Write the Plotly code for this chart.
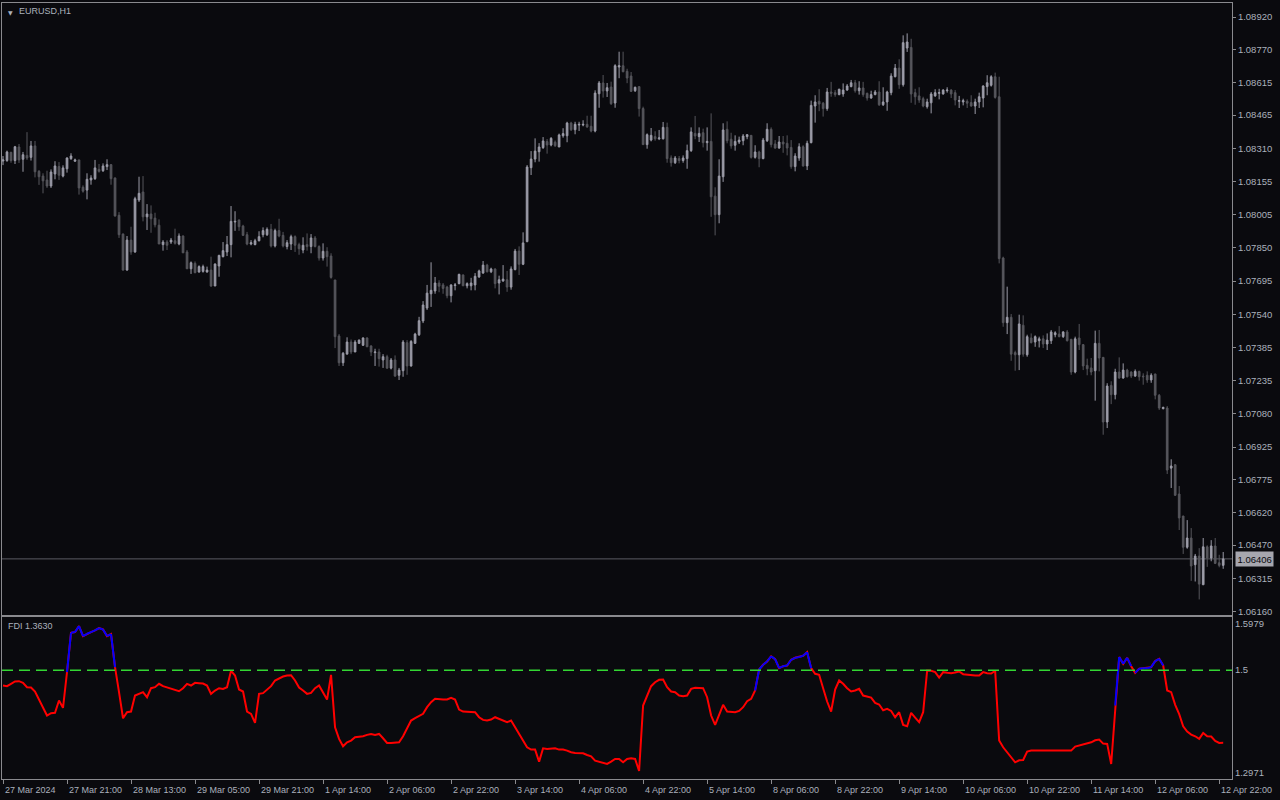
import plotly.graph_objects as go

# ---------------- data: EURUSD H1 candles (bar index 0..305) ----------------
open_ = [1.08252, 1.08254, 1.08292, 1.08254, 1.08317, 1.08260, 1.08278, 1.08269, 1.08322, 1.08204,
         1.08182, 1.08164, 1.08136, 1.08192, 1.08226, 1.08182, 1.08216, 1.08263, 1.08251, 1.08257,
         1.08130, 1.08117, 1.08164, 1.08170, 1.08213, 1.08207, 1.08226, 1.08235, 1.08173, 1.08000,
         1.07913, 1.07746, 1.07885, 1.07830, 1.08071, 1.08108, 1.07993, 1.08006, 1.07987, 1.07954,
         1.07864, 1.07876, 1.07876, 1.07882, 1.07867, 1.07904, 1.07830, 1.07752, 1.07777, 1.07737,
         1.07740, 1.07737, 1.07746, 1.07672, 1.07765, 1.07808, 1.07830, 1.07864, 1.07969, 1.07978,
         1.07950, 1.07910, 1.07867, 1.07864, 1.07882, 1.07910, 1.07910, 1.07935, 1.07858, 1.07929,
         1.07907, 1.07855, 1.07867, 1.07901, 1.07864, 1.07839, 1.07864, 1.07855, 1.07895, 1.07855,
         1.07802, 1.07833, 1.07811, 1.07700, 1.07440, 1.07316, 1.07356, 1.07412, 1.07366, 1.07406,
         1.07397, 1.07431, 1.07394, 1.07363, 1.07366, 1.07329, 1.07344, 1.07291, 1.07329, 1.07258,
         1.07279, 1.07409, 1.07301, 1.07406, 1.07446, 1.07510, 1.07570, 1.07636, 1.07649, 1.07686,
         1.07677, 1.07667, 1.07627, 1.07674, 1.07683, 1.07723, 1.07673, 1.07673, 1.07677, 1.07714,
         1.07732, 1.07769, 1.07738, 1.07751, 1.07686, 1.07695, 1.07701, 1.07667, 1.07748, 1.07834,
         1.07773, 1.07878, 1.08221, 1.08261, 1.08295, 1.08314, 1.08342, 1.08326, 1.08339, 1.08317,
         1.08369, 1.08369, 1.08428, 1.08397, 1.08419, 1.08419, 1.08422, 1.08413, 1.08391, 1.08564,
         1.08614, 1.08577, 1.08595, 1.08521, 1.08688, 1.08694, 1.08668, 1.08646, 1.08578, 1.08597,
         1.08495, 1.08328, 1.08349, 1.08365, 1.08355, 1.08355, 1.08408, 1.08266, 1.08244, 1.08263,
         1.08254, 1.08263, 1.08300, 1.08380, 1.08365, 1.08383, 1.08337, 1.08343, 1.08089, 1.08003,
         1.08179, 1.08399, 1.08353, 1.08325, 1.08340, 1.08346, 1.08365, 1.08371, 1.08269, 1.08294,
         1.08263, 1.08346, 1.08399, 1.08331, 1.08312, 1.08340, 1.08334, 1.08315, 1.08226, 1.08266,
         1.08318, 1.08229, 1.08337, 1.08507, 1.08529, 1.08520, 1.08495, 1.08572, 1.08569, 1.08560,
         1.08563, 1.08581, 1.08597, 1.08615, 1.08578, 1.08591, 1.08566, 1.08544, 1.08560, 1.08572,
         1.08513, 1.08526, 1.08569, 1.08643, 1.08683, 1.08606, 1.08776, 1.08779, 1.08569, 1.08554,
         1.08541, 1.08504, 1.08522, 1.08554, 1.08566, 1.08563, 1.08578, 1.08581, 1.08569, 1.08529,
         1.08526, 1.08529, 1.08523, 1.08507, 1.08526, 1.08544, 1.08597, 1.08603, 1.08643, 1.08550,
         1.07802, 1.07502, 1.07527, 1.07363, 1.07353, 1.07490, 1.07353, 1.07431, 1.07412, 1.07418,
         1.07427, 1.07403, 1.07418, 1.07446, 1.07449, 1.07437, 1.07459, 1.07425, 1.07273, 1.07431,
         1.07400, 1.07304, 1.07292, 1.07279, 1.07406, 1.07341, 1.07041, 1.07211, 1.07168, 1.07273,
         1.07245, 1.07282, 1.07273, 1.07254, 1.07276, 1.07254, 1.07258, 1.07236, 1.07264, 1.07165,
         1.07103, 1.07106, 1.06827, 1.06843, 1.06707, 1.06605, 1.06460, 1.06503, 1.06379, 1.06419,
         1.06286, 1.06462, 1.06410, 1.06466, 1.06388, 1.06376]

high_ = [1.08275, 1.08300, 1.08295, 1.08322, 1.08331, 1.08294, 1.08386, 1.08345, 1.08345, 1.08210,
         1.08195, 1.08207, 1.08213, 1.08251, 1.08247, 1.08232, 1.08269, 1.08288, 1.08263, 1.08257,
         1.08139, 1.08195, 1.08186, 1.08257, 1.08238, 1.08241, 1.08260, 1.08238, 1.08176, 1.08015,
         1.07916, 1.07904, 1.07947, 1.08086, 1.08179, 1.08182, 1.08052, 1.08046, 1.08012, 1.07981,
         1.07885, 1.07885, 1.07895, 1.07938, 1.07916, 1.07907, 1.07839, 1.07786, 1.07786, 1.07768,
         1.07771, 1.07762, 1.07808, 1.07777, 1.07817, 1.07876, 1.07904, 1.08043, 1.08019, 1.07981,
         1.07956, 1.07923, 1.07885, 1.07891, 1.07926, 1.07944, 1.07944, 1.07960, 1.07938, 1.07984,
         1.07923, 1.07885, 1.07910, 1.07907, 1.07873, 1.07898, 1.07916, 1.07913, 1.07904, 1.07861,
         1.07870, 1.07852, 1.07824, 1.07700, 1.07449, 1.07366, 1.07434, 1.07424, 1.07421, 1.07424,
         1.07434, 1.07434, 1.07397, 1.07381, 1.07381, 1.07356, 1.07353, 1.07338, 1.07350, 1.07292,
         1.07421, 1.07421, 1.07421, 1.07455, 1.07529, 1.07602, 1.07677, 1.07782, 1.07714, 1.07699,
         1.07686, 1.07673, 1.07680, 1.07686, 1.07729, 1.07726, 1.07689, 1.07710, 1.07732, 1.07748,
         1.07788, 1.07775, 1.07757, 1.07754, 1.07720, 1.07769, 1.07742, 1.07763, 1.07844, 1.07856,
         1.07921, 1.08233, 1.08298, 1.08357, 1.08335, 1.08363, 1.08354, 1.08363, 1.08347, 1.08379,
         1.08404, 1.08434, 1.08434, 1.08434, 1.08434, 1.08441, 1.08462, 1.08462, 1.08580, 1.08623,
         1.08651, 1.08614, 1.08620, 1.08701, 1.08759, 1.08759, 1.08680, 1.08665, 1.08597, 1.08597,
         1.08504, 1.08380, 1.08405, 1.08390, 1.08396, 1.08433, 1.08430, 1.08278, 1.08275, 1.08275,
         1.08278, 1.08328, 1.08408, 1.08461, 1.08408, 1.08402, 1.08408, 1.08473, 1.08130, 1.08260,
         1.08427, 1.08436, 1.08383, 1.08371, 1.08365, 1.08377, 1.08377, 1.08371, 1.08325, 1.08300,
         1.08359, 1.08427, 1.08408, 1.08349, 1.08368, 1.08368, 1.08371, 1.08349, 1.08288, 1.08334,
         1.08325, 1.08346, 1.08532, 1.08557, 1.08585, 1.08526, 1.08591, 1.08619, 1.08581, 1.08587,
         1.08612, 1.08609, 1.08628, 1.08628, 1.08622, 1.08619, 1.08569, 1.08578, 1.08581, 1.08622,
         1.08594, 1.08578, 1.08659, 1.08702, 1.08724, 1.08835, 1.08844, 1.08819, 1.08587, 1.08594,
         1.08550, 1.08541, 1.08572, 1.08585, 1.08587, 1.08585, 1.08594, 1.08585, 1.08581, 1.08554,
         1.08541, 1.08538, 1.08557, 1.08541, 1.08569, 1.08603, 1.08650, 1.08650, 1.08662, 1.08643,
         1.07808, 1.07669, 1.07542, 1.07372, 1.07539, 1.07536, 1.07446, 1.07452, 1.07443, 1.07437,
         1.07443, 1.07452, 1.07468, 1.07462, 1.07486, 1.07462, 1.07468, 1.07425, 1.07437, 1.07496,
         1.07403, 1.07335, 1.07338, 1.07465, 1.07468, 1.07341, 1.07221, 1.07230, 1.07288, 1.07341,
         1.07313, 1.07288, 1.07276, 1.07285, 1.07279, 1.07267, 1.07276, 1.07267, 1.07264, 1.07171,
         1.07112, 1.07115, 1.06868, 1.06846, 1.06744, 1.06605, 1.06586, 1.06549, 1.06429, 1.06456,
         1.06503, 1.06469, 1.06493, 1.06503, 1.06425, 1.06438]

low_ = [1.08233, 1.08248, 1.08244, 1.08238, 1.08243, 1.08202, 1.08257, 1.08254, 1.08176, 1.08141,
        1.08102, 1.08127, 1.08127, 1.08167, 1.08164, 1.08176, 1.08198, 1.08257, 1.08248, 1.08096,
        1.08105, 1.08074, 1.08142, 1.08164, 1.08198, 1.08201, 1.08210, 1.08142, 1.07994, 1.07895,
        1.07743, 1.07743, 1.07817, 1.07826, 1.08062, 1.07972, 1.07932, 1.07919, 1.07944, 1.07867,
        1.07836, 1.07839, 1.07867, 1.07864, 1.07861, 1.07826, 1.07752, 1.07728, 1.07731, 1.07734,
        1.07734, 1.07734, 1.07668, 1.07672, 1.07715, 1.07805, 1.07811, 1.07805, 1.07928, 1.07928,
        1.07904, 1.07861, 1.07861, 1.07861, 1.07879, 1.07898, 1.07904, 1.07851, 1.07851, 1.07898,
        1.07851, 1.07842, 1.07839, 1.07830, 1.07817, 1.07824, 1.07836, 1.07824, 1.07851, 1.07790,
        1.07790, 1.07762, 1.07706, 1.07384, 1.07301, 1.07301, 1.07356, 1.07356, 1.07366, 1.07403,
        1.07394, 1.07390, 1.07347, 1.07301, 1.07298, 1.07292, 1.07288, 1.07285, 1.07251, 1.07236,
        1.07251, 1.07260, 1.07298, 1.07403, 1.07440, 1.07500, 1.07561, 1.07575, 1.07636, 1.07643,
        1.07636, 1.07615, 1.07596, 1.07652, 1.07680, 1.07673, 1.07661, 1.07652, 1.07652, 1.07710,
        1.07729, 1.07735, 1.07732, 1.07661, 1.07633, 1.07692, 1.07645, 1.07655, 1.07745, 1.07723,
        1.07769, 1.07875, 1.08187, 1.08246, 1.08249, 1.08308, 1.08286, 1.08320, 1.08317, 1.08317,
        1.08360, 1.08339, 1.08391, 1.08376, 1.08391, 1.08413, 1.08406, 1.08385, 1.08385, 1.08499,
        1.08546, 1.08549, 1.08512, 1.08499, 1.08636, 1.08664, 1.08613, 1.08572, 1.08572, 1.08458,
        1.08328, 1.08309, 1.08343, 1.08346, 1.08349, 1.08352, 1.08244, 1.08226, 1.08238, 1.08241,
        1.08244, 1.08216, 1.08294, 1.08353, 1.08340, 1.08315, 1.08300, 1.07993, 1.07907, 1.07963,
        1.08155, 1.08334, 1.08309, 1.08300, 1.08331, 1.08325, 1.08353, 1.08263, 1.08263, 1.08223,
        1.08260, 1.08340, 1.08315, 1.08309, 1.08309, 1.08290, 1.08278, 1.08216, 1.08204, 1.08253,
        1.08226, 1.08210, 1.08334, 1.08430, 1.08483, 1.08458, 1.08485, 1.08550, 1.08550, 1.08557,
        1.08550, 1.08578, 1.08594, 1.08569, 1.08560, 1.08550, 1.08532, 1.08541, 1.08557, 1.08507,
        1.08507, 1.08485, 1.08557, 1.08640, 1.08587, 1.08597, 1.08758, 1.08522, 1.08513, 1.08522,
        1.08501, 1.08495, 1.08473, 1.08550, 1.08538, 1.08560, 1.08569, 1.08544, 1.08510, 1.08498,
        1.08510, 1.08498, 1.08504, 1.08470, 1.08498, 1.08501, 1.08557, 1.08597, 1.08541, 1.07777,
        1.07483, 1.07449, 1.07325, 1.07279, 1.07282, 1.07344, 1.07344, 1.07406, 1.07390, 1.07387,
        1.07384, 1.07375, 1.07403, 1.07434, 1.07434, 1.07431, 1.07415, 1.07260, 1.07267, 1.07375,
        1.07282, 1.07258, 1.07258, 1.07140, 1.07276, 1.06982, 1.07013, 1.07124, 1.07146, 1.07242,
        1.07242, 1.07248, 1.07245, 1.07251, 1.07233, 1.07214, 1.07223, 1.07223, 1.07146, 1.07097,
        1.07100, 1.06800, 1.06735, 1.06698, 1.06540, 1.06429, 1.06453, 1.06304, 1.06301, 1.06218,
        1.06286, 1.06369, 1.06395, 1.06382, 1.06367, 1.06360]

close_ = [1.08257, 1.08294, 1.08254, 1.08318, 1.08257, 1.08281, 1.08266, 1.08322, 1.08202, 1.08179,
          1.08160, 1.08136, 1.08201, 1.08229, 1.08186, 1.08220, 1.08266, 1.08275, 1.08257, 1.08127,
          1.08112, 1.08167, 1.08173, 1.08220, 1.08204, 1.08229, 1.08235, 1.08170, 1.07997, 1.07910,
          1.07746, 1.07885, 1.07830, 1.08077, 1.08102, 1.07993, 1.08006, 1.07984, 1.07956, 1.07867,
          1.07876, 1.07861, 1.07885, 1.07870, 1.07904, 1.07826, 1.07752, 1.07780, 1.07734, 1.07762,
          1.07762, 1.07746, 1.07672, 1.07774, 1.07814, 1.07836, 1.07864, 1.07972, 1.07972, 1.07947,
          1.07907, 1.07867, 1.07873, 1.07882, 1.07901, 1.07929, 1.07935, 1.07858, 1.07929, 1.07904,
          1.07858, 1.07873, 1.07901, 1.07861, 1.07845, 1.07861, 1.07855, 1.07895, 1.07855, 1.07802,
          1.07833, 1.07808, 1.07712, 1.07437, 1.07316, 1.07360, 1.07412, 1.07366, 1.07412, 1.07421,
          1.07431, 1.07390, 1.07366, 1.07366, 1.07335, 1.07344, 1.07291, 1.07329, 1.07254, 1.07282,
          1.07412, 1.07301, 1.07415, 1.07449, 1.07511, 1.07584, 1.07639, 1.07652, 1.07686, 1.07671,
          1.07661, 1.07627, 1.07677, 1.07677, 1.07726, 1.07673, 1.07683, 1.07686, 1.07717, 1.07742,
          1.07769, 1.07738, 1.07751, 1.07683, 1.07701, 1.07704, 1.07667, 1.07751, 1.07834, 1.07773,
          1.07872, 1.08224, 1.08261, 1.08298, 1.08317, 1.08345, 1.08326, 1.08357, 1.08323, 1.08373,
          1.08379, 1.08428, 1.08397, 1.08422, 1.08422, 1.08422, 1.08410, 1.08391, 1.08567, 1.08614,
          1.08577, 1.08592, 1.08518, 1.08694, 1.08694, 1.08666, 1.08637, 1.08575, 1.08594, 1.08495,
          1.08328, 1.08374, 1.08371, 1.08355, 1.08359, 1.08408, 1.08263, 1.08244, 1.08266, 1.08254,
          1.08266, 1.08300, 1.08387, 1.08368, 1.08380, 1.08337, 1.08343, 1.08086, 1.08003, 1.08182,
          1.08396, 1.08346, 1.08322, 1.08343, 1.08349, 1.08368, 1.08374, 1.08269, 1.08294, 1.08263,
          1.08349, 1.08399, 1.08328, 1.08312, 1.08340, 1.08331, 1.08312, 1.08226, 1.08275, 1.08318,
          1.08229, 1.08334, 1.08510, 1.08526, 1.08516, 1.08495, 1.08572, 1.08566, 1.08560, 1.08585,
          1.08581, 1.08600, 1.08615, 1.08578, 1.08591, 1.08560, 1.08544, 1.08560, 1.08572, 1.08513,
          1.08526, 1.08572, 1.08646, 1.08683, 1.08606, 1.08801, 1.08804, 1.08563, 1.08550, 1.08535,
          1.08507, 1.08526, 1.08563, 1.08569, 1.08569, 1.08581, 1.08581, 1.08563, 1.08535, 1.08532,
          1.08532, 1.08520, 1.08507, 1.08526, 1.08550, 1.08600, 1.08615, 1.08643, 1.08547, 1.07799,
          1.07502, 1.07527, 1.07356, 1.07353, 1.07496, 1.07356, 1.07437, 1.07409, 1.07437, 1.07427,
          1.07403, 1.07421, 1.07459, 1.07455, 1.07437, 1.07459, 1.07418, 1.07273, 1.07427, 1.07400,
          1.07301, 1.07288, 1.07273, 1.07406, 1.07338, 1.07041, 1.07208, 1.07168, 1.07273, 1.07245,
          1.07282, 1.07251, 1.07254, 1.07276, 1.07251, 1.07251, 1.07236, 1.07258, 1.07165, 1.07106,
          1.07109, 1.06818, 1.06837, 1.06701, 1.06596, 1.06460, 1.06503, 1.06373, 1.06419, 1.06289,
          1.06462, 1.06410, 1.06466, 1.06385, 1.06376, 1.06406]

# FDI indicator value per bar
fdi = [1.4710, 1.4698, 1.4742, 1.4786, 1.4792, 1.4761, 1.4679, 1.4673, 1.4597, 1.4446,
       1.4283, 1.4144, 1.4188, 1.4195, 1.4427, 1.4289, 1.4962, 1.5704, 1.5717, 1.5830,
       1.5641, 1.5685, 1.5717, 1.5748, 1.5792, 1.5767, 1.5641, 1.5679, 1.5056, 1.4585,
       1.4094, 1.4207, 1.4220, 1.4522, 1.4547, 1.4585, 1.4490, 1.4660, 1.4679, 1.4742,
       1.4698, 1.4673, 1.4647, 1.4616, 1.4603, 1.4660, 1.4742, 1.4710, 1.4761, 1.4754,
       1.4748, 1.4710, 1.4553, 1.4616, 1.4660, 1.4647, 1.4679, 1.4987, 1.4899, 1.4635,
       1.4597, 1.4220, 1.4176, 1.4006, 1.4553, 1.4566, 1.4629, 1.4698, 1.4805, 1.4849,
       1.4880, 1.4899, 1.4905, 1.4805, 1.4673, 1.4616, 1.4553, 1.4572, 1.4660, 1.4710,
       1.4585, 1.4446, 1.4912, 1.3924, 1.3704, 1.3566, 1.3641, 1.3673, 1.3736, 1.3742,
       1.3754, 1.3780, 1.3798, 1.3780, 1.3798, 1.3717, 1.3629, 1.3629, 1.3629, 1.3641,
       1.3754, 1.3893, 1.4050, 1.4094, 1.4132, 1.4176, 1.4302, 1.4396, 1.4459, 1.4446,
       1.4446, 1.4446, 1.4478, 1.4446, 1.4258, 1.4220, 1.4220, 1.4220, 1.4207, 1.4113,
       1.4063, 1.4050, 1.4069, 1.4113, 1.4081, 1.4050, 1.4019, 1.4050, 1.3924, 1.3798,
       1.3692, 1.3547, 1.3503, 1.3503, 1.3276, 1.3528, 1.3515, 1.3515, 1.3528, 1.3503,
       1.3503, 1.3484, 1.3453, 1.3440, 1.3434, 1.3434, 1.3402, 1.3377, 1.3295, 1.3276,
       1.3264, 1.3232, 1.3276, 1.3327, 1.3327, 1.3264, 1.3327, 1.3339, 1.3327, 1.3100,
       1.4333, 1.4522, 1.4698, 1.4773, 1.4817, 1.4824, 1.4679, 1.4597, 1.4585, 1.4522,
       1.4509, 1.4522, 1.4647, 1.4666, 1.4666, 1.4660, 1.4490, 1.4144, 1.3968, 1.4176,
       1.4346, 1.4220, 1.4207, 1.4207, 1.4232, 1.4302, 1.4415, 1.4459, 1.4616, 1.5012,
       1.5100, 1.5163, 1.5258, 1.5207, 1.5037, 1.5075, 1.5088, 1.5195, 1.5232, 1.5245,
       1.5270, 1.5339, 1.5037, 1.4931, 1.4912, 1.4660, 1.4409, 1.4220, 1.4635, 1.4805,
       1.4742, 1.4660, 1.4597, 1.4616, 1.4647, 1.4522, 1.4509, 1.4484, 1.4383, 1.4352,
       1.4245, 1.4270, 1.4232, 1.4113, 1.4207, 1.3968, 1.3943, 1.4195, 1.4107, 1.4019,
       1.4207, 1.4993, 1.4987, 1.4962, 1.4861, 1.4962, 1.4949, 1.4943, 1.4956, 1.4975,
       1.4924, 1.4912, 1.4905, 1.4899, 1.4899, 1.4962, 1.4943, 1.4937, 1.4987, 1.3673,
       1.3547, 1.3453, 1.3358, 1.3264, 1.3302, 1.3308, 1.3465, 1.3484, 1.3484, 1.3484,
       1.3484, 1.3484, 1.3484, 1.3484, 1.3484, 1.3484, 1.3484, 1.3484, 1.3559, 1.3578,
       1.3597, 1.3622, 1.3641, 1.3679, 1.3692, 1.3616, 1.3610, 1.3232, 1.4333, 1.5245,
       1.5119, 1.5232, 1.5075, 1.4949, 1.5025, 1.5037, 1.5037, 1.5056, 1.5170, 1.5214,
       1.5088, 1.4616, 1.4585, 1.4346, 1.4170, 1.3943, 1.3842, 1.3786, 1.3754, 1.3704,
       1.3817, 1.3754, 1.3748, 1.3666, 1.3629, 1.3630]

fdi_level = 1.5
fdi_scale_max = 1.5979
fdi_scale_min = 1.2971

time_labels = ["27 Mar 2024", "27 Mar 21:00", "28 Mar 13:00", "29 Mar 05:00", "29 Mar 21:00",
               "1 Apr 14:00", "2 Apr 06:00", "2 Apr 22:00", "3 Apr 14:00", "4 Apr 06:00",
               "4 Apr 22:00", "5 Apr 14:00", "8 Apr 06:00", "8 Apr 22:00", "9 Apr 14:00",
               "10 Apr 06:00", "10 Apr 22:00", "11 Apr 14:00", "12 Apr 06:00", "12 Apr 22:00"]
label_step = 16

price_ticks = [1.08920, 1.08770, 1.08615, 1.08465, 1.08310, 1.08155, 1.08005, 1.07850,
               1.07695, 1.07540, 1.07385, 1.07235, 1.07080, 1.06925, 1.06775, 1.06620,
               1.06470, 1.06315, 1.06160]

symbol_title = "EURUSD,H1"

# ---------------- styling ----------------
BG = "#0a0a0e"
BULL = "#9c9ca8"
BEAR = "#56565c"
BORDER = "#8a8a8e"
TXT = "#aab1bc"
FONT = "Liberation Sans"

n = len(close_)
bars = list(range(n))
x_range = [-0.25, 307.2]

fig = go.Figure()

fig.add_trace(go.Candlestick(
    x=bars, open=open_, high=high_, low=low_, close=close_,
    increasing=dict(line=dict(color=BULL, width=1), fillcolor=BULL),
    decreasing=dict(line=dict(color=BEAR, width=1), fillcolor=BEAR),
    whiskerwidth=0, hoverinfo="skip", showlegend=False,
    xaxis="x", yaxis="y"))

# FDI: red everywhere, blue segments where the later point is above the level
fig.add_trace(go.Scatter(x=bars, y=fdi, mode="lines",
                         line=dict(color="#ff0000", width=2),
                         hoverinfo="skip", showlegend=False,
                         xaxis="x2", yaxis="y2"))
bx, by = [], []
for i in range(1, n):
    if fdi[i] > fdi_level:
        bx += [i - 1, i, None]
        by += [fdi[i - 1], fdi[i], None]
fig.add_trace(go.Scatter(x=bx, y=by, mode="lines",
                         line=dict(color="#0000ff", width=2),
                         connectgaps=False, hoverinfo="skip", showlegend=False,
                         xaxis="x2", yaxis="y2"))

# level line and current price line
fig.add_shape(type="line", xref="x2 domain", yref="y2", x0=0, x1=1,
              y0=fdi_level, y1=fdi_level,
              line=dict(color="#33d633", width=1.5, dash="11px,6px"))
fig.add_shape(type="line", xref="x domain", yref="y", x0=0, x1=1,
              y0=close_[-1], y1=close_[-1], layer="below",
              line=dict(color="#5a5a62", width=1))

# price axis range and indicator range
main_range = [1.06147, 1.08985]
ind_range = [1.2949, 1.6006]
ind_px = (ind_range[1] - ind_range[0]) / 162.0
ind_tickvals = [ind_range[1] - 7 * ind_px, fdi_level, ind_range[0] + 6 * ind_px]
ind_ticktext = ["%.4f" % fdi_scale_max, "1.5", "%.4f" % fdi_scale_min]

axis_common = dict(showgrid=False, zeroline=False, showline=True, mirror=True,
                   linecolor=BORDER, linewidth=1)

tick_positions = list(range(0, n, label_step))[:len(time_labels)]

fig.update_layout(
    width=1280, height=800,
    margin=dict(l=2, r=48, t=3, b=21, autoexpand=False),
    paper_bgcolor=BG, plot_bgcolor=BG,
    boxgap=0.4,
    font=dict(family=FONT, size=9, color=TXT),
    xaxis=dict(domain=[0, 1], range=x_range, anchor="y", showticklabels=False,
               ticks="", rangeslider=dict(visible=False), **axis_common),
    yaxis=dict(domain=[0.2117, 1], range=main_range, side="right", anchor="x",
               tickvals=price_ticks, ticktext=["%.5f" % v for v in price_ticks],
               ticks="outside", ticklen=3, tickcolor=BORDER,
               tickfont=dict(family=FONT, size=9.5, color=TXT), **axis_common),
    xaxis2=dict(domain=[0, 1], range=x_range, anchor="y2", showticklabels=False,
                tickvals=tick_positions, ticks="outside", ticklen=4, tickcolor=BORDER,
                **axis_common),
    yaxis2=dict(domain=[0, 0.2091], range=ind_range, side="right", anchor="x2",
                tickvals=ind_tickvals, ticktext=ind_ticktext, ticks="",
                tickfont=dict(family=FONT, size=9.5, color=TXT), **axis_common),
)

annotations = []
for pos, lab in zip(tick_positions, time_labels):
    annotations.append(dict(x=pos, xref="x2", y=0, yref="paper", text=lab,
                            xanchor="left", yanchor="top", xshift=0, yshift=-4,
                            showarrow=False, font=dict(family=FONT, size=9, color=TXT)))
annotations.append(dict(x=0, xref="paper", y=1, yref="paper", text="▼",
                        xanchor="left", yanchor="top", xshift=4, yshift=-4,
                        showarrow=False, font=dict(family="DejaVu Sans", size=6, color=TXT)))
annotations.append(dict(x=0, xref="paper", y=1, yref="paper", text=symbol_title,
                        xanchor="left", yanchor="top", xshift=15, yshift=-1,
                        showarrow=False, font=dict(family=FONT, size=9, color=TXT)))
annotations.append(dict(x=0, xref="paper", y=1, yref="y2 domain",
                        text="FDI %.4f" % fdi[-1],
                        xanchor="left", yanchor="top", xshift=4, yshift=-2,
                        showarrow=False, font=dict(family=FONT, size=9, color=TXT)))
annotations.append(dict(x=1, xref="paper", y=close_[-1], yref="y",
                        text="%.5f" % close_[-1], xanchor="left", yanchor="middle",
                        xshift=3, showarrow=False, bgcolor="#a6a6ae", borderpad=1.5,
                        font=dict(family=FONT, size=9.5, color="#0a0a0e")))
fig.update_layout(annotations=annotations)

fig.write_html("out.html", config={"displayModeBar": False},
               post_script="document.body.style.margin='0';document.body.style.overflow='hidden';")
